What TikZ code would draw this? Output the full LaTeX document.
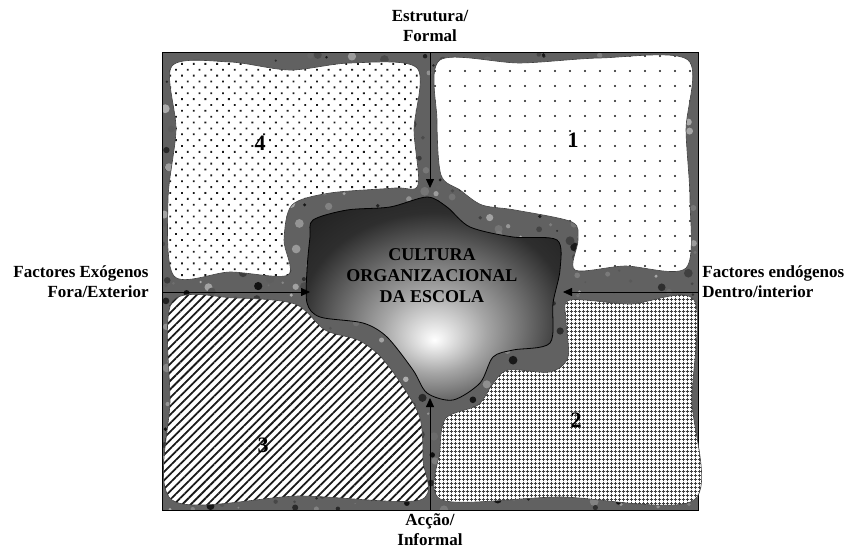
\documentclass[tikz,border=0pt]{standalone}
\usepackage{fontspec}
\setmainfont{Liberation Serif}
\usetikzlibrary{arrows.meta, patterns.meta}

\colorlet{stone}{black!62}
\pgfdeclareradialshading{blobglow}{\pgfpoint{0bp}{-10bp}}{color(0bp)=(white); color(10bp)=(black!35); color(26bp)=(black!82); color(50bp)=(black!97)}

\begin{document}
\begin{tikzpicture}[x=1pt, y=-1pt, thick,
  axisline/.style={line width=0.8pt, -{Triangle[length=9pt, width=8pt]}},
  axistext/.style={font=\fontsize{17}{20}\selectfont\bfseries, inner sep=1pt},
  quad/.style={preaction={fill=white}, draw=black!75, line width=0.6pt, pattern color=black!90},
  num/.style={font=\fontsize{22}{22}\selectfont\bfseries},
  title/.style={font=\fontsize{18}{21}\selectfont\bfseries, align=center}]
  \useasboundingbox (0,0) rectangle (846,551);

  % frame corners and axis ends
  \coordinate (fnw) at (162,53);
  \coordinate (fse) at (698,510);
  \coordinate (ftop) at (430,53);
  \coordinate (fbot) at (430,510);
  \coordinate (fleft) at (162,292);
  \coordinate (fright) at (698,292);
  \coordinate (atop) at (430,188);
  \coordinate (abot) at (430,398);
  \coordinate (aleft) at (310,292);
  \coordinate (aright) at (563,292);

  % stone background
  \fill[stone] (fnw) rectangle (fse);
  \begin{scope}
    \clip (fnw) rectangle (fse);
    \pgfmathsetseed{42}
    \foreach \i in {1,...,900}{
      \pgfmathsetmacro{\mx}{162+536*rnd}
      \pgfmathsetmacro{\my}{53+457*rnd}
      \pgfmathsetmacro{\tone}{int(30+65*rnd)}
      \pgfmathsetmacro{\rad}{1+3.5*rnd}
      \fill[black!\tone] (\mx,\my) circle (\rad);
    }
  \end{scope}
  \draw[line width=1pt] (fnw) rectangle (fse);

  % the four quadrants
  \path[quad, pattern={Dots[distance=8.3pt, angle=45, radius=1.3pt]}]
    plot[smooth cycle, tension=0.5] coordinates {(172,66) (230,62) (290,70) (350,63) (417,68) (414,130) (418,185) (395,188) (330,193) (292,205) (284,240) (288,275) (230,272) (174,276) (168,200) (176,130)};
  \path[quad, pattern={Dots[distance=15pt, radius=1.1pt]}]
    plot[smooth cycle, tension=0.5] coordinates {(440,60) (520,63) (600,58) (688,60) (686,130) (690,200) (686,268) (625,266) (575,270) (578,240) (572,222) (515,210) (482,205) (460,190) (441,175) (437,120)};
  \path[quad, pattern={Lines[angle=45, distance=6pt, line width=1.8pt]}]
    plot[smooth cycle, tension=0.5] coordinates {(172,302) (235,298) (295,304) (325,330) (358,340) (380,356) (402,385) (420,418) (423,460) (420,500) (300,496) (172,500) (170,400)};
  \path[quad, pattern={Hatch[distance=4pt, line width=0.9pt]}, pattern color=black!75]
    plot[smooth cycle, tension=0.5] coordinates {(570,300) (630,304) (694,300) (692,400) (694,500) (560,497) (442,500) (440,450) (446,418) (478,405) (492,385) (508,370) (550,372) (568,357) (566,320)};

  \node[num] (n4) at (260,143) {4};
  \node[num] (n1) at (573,140) {1};
  \node[num] (n3) at (263,445) {3};
  \node[num] (n2) at (576,420) {2};

  % centre
  \shade[shading=blobglow, draw=black, line width=0.8pt]
    plot[smooth cycle, tension=0.5] coordinates {(313,220) (347,210) (390,207) (427,197) (447,207) (470,227) (513,237) (557,240) (560,270) (553,303) (550,343) (513,350) (493,357) (480,383) (453,400) (427,393) (413,370) (387,337) (363,323) (320,317) (307,303) (307,270) (310,237)};
  \node[title] (cult) at (432,276) {CULTURA\\ORGANIZACIONAL\\DA ESCOLA};

  % axes
  \draw[axisline] (ftop) -- (atop);
  \draw[axisline] (fbot) -- (abot);
  \draw[axisline] (fleft) -- (aleft);
  \draw[axisline] (fright) -- (aright);

  % axis labels
  \node[axistext, align=center] (struct) at (430,26) {Estrutura/\\Formal};
  \node[axistext, align=center] (acc) at (430,530) {Acção/\\Informal};
  \node[axistext, align=right, anchor=east] (exo) at (150,282) {Factores Exógenos\\Fora/Exterior};
  \node[axistext, align=left, anchor=west] (endo) at (701,282) {Factores endógenos\\Dentro/interior};
\end{tikzpicture}
\end{document}
